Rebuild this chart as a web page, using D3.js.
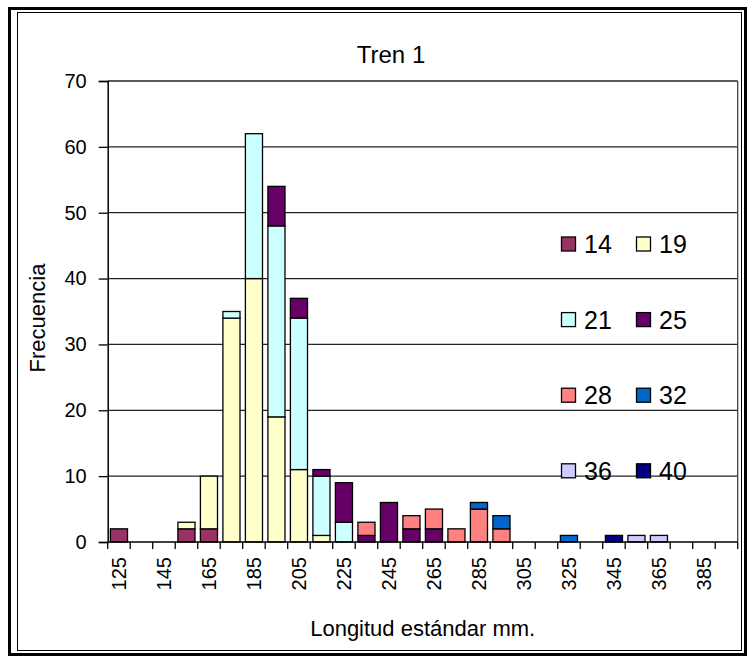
<!DOCTYPE html>
<html>
<head>
<meta charset="utf-8">
<script src="https://cdn.jsdelivr.net/npm/d3@7"></script>
<style>
  html, body { margin: 0; padding: 0; background: #fff; }
  svg { display: block; }
  text { font-family: "Liberation Sans", Arial, sans-serif; fill: #000; }
</style>
</head>
<body>
<svg id="chart" width="751" height="662"></svg>
<script>
// Length classes (mm), one per bar position
const lengths = ["125","135","145","155","165","175","185","195","205","215",
                 "225","235","245","255","265","275","285","295","305","315",
                 "325","335","345","355","365","375","385","395"];

// Frequency per length class, one array per series
const s14 = [2,0,0,2,2,0,0,0,0,0,0,0,0,0,0,0,0,0,0,0,0,0,0,0,0,0,0,0];
const s19 = [0,0,0,1,8,34,40,19,11,1,0,0,0,0,0,0,0,0,0,0,0,0,0,0,0,0,0,0];
const s21 = [0,0,0,0,0,1,22,29,23,9,3,0,0,0,0,0,0,0,0,0,0,0,0,0,0,0,0,0];
const s25 = [0,0,0,0,0,0,0,6,3,1,6,1,6,2,2,0,0,0,0,0,0,0,0,0,0,0,0,0];
const s28 = [0,0,0,0,0,0,0,0,0,0,0,2,0,2,3,2,5,2,0,0,0,0,0,0,0,0,0,0];
const s32 = [0,0,0,0,0,0,0,0,0,0,0,0,0,0,0,0,1,2,0,0,1,0,0,0,0,0,0,0];
const s36 = [0,0,0,0,0,0,0,0,0,0,0,0,0,0,0,0,0,0,0,0,0,0,0,1,1,0,0,0];
const s40 = [0,0,0,0,0,0,0,0,0,0,0,0,0,0,0,0,0,0,0,0,0,0,1,0,0,0,0,0];

const seriesNames = ["14","19","21","25","28","32","36","40"];
const seriesValues = [s14, s19, s21, s25, s28, s32, s36, s40];
const seriesColors = ["#993366","#FFFFCC","#CCFFFF","#660066","#FF8080","#0066CC","#CCCCFF","#000080"];

const yTicks = [0,10,20,30,40,50,60,70];
const title = "Tren 1";
const xTitle = "Longitud estándar mm.";
const yTitle = "Frecuencia";

const svg = d3.select("#chart");
const plot = { left: 107.7, right: 737.7, top: 81, bottom: 542 };

// Frame around the whole chart
svg.append("rect").attr("x", 9.5).attr("y", 8.5).attr("width", 736).attr("height", 646)
  .attr("fill", "#fff").attr("stroke", "#000").attr("stroke-width", 3);
svg.append("rect").attr("x", 17.5).attr("y", 12.5).attr("width", 724).attr("height", 638)
  .attr("fill", "none").attr("stroke", "#000").attr("stroke-width", 1);

const x = d3.scaleBand().domain(lengths).range([plot.left, plot.right])
  .paddingInner(0.24).paddingOuter(0.12);
const xEdge = d3.scaleLinear().domain([0, lengths.length]).range([plot.left, plot.right]);
const y = d3.scaleLinear().domain([0, 70]).range([plot.bottom, plot.top]);

// Horizontal gridlines
svg.append("g").selectAll("line").data(yTicks.filter(d => d > 0)).join("line")
  .attr("x1", plot.left).attr("x2", plot.right)
  .attr("y1", d => y(d)).attr("y2", d => y(d))
  .attr("stroke", "#222").attr("stroke-width", 1.3);

// Right edge of the plot area
svg.append("line").attr("x1", plot.right).attr("x2", plot.right)
  .attr("y1", plot.top).attr("y2", plot.bottom).attr("stroke", "#444").attr("stroke-width", 1.3);

// Stacked bars
const table = lengths.map((len, i) => {
  const row = { len };
  seriesNames.forEach((n, k) => row[n] = seriesValues[k][i]);
  return row;
});
const stacked = d3.stack().keys(seriesNames)(table);
const bars = svg.append("g");
stacked.forEach((layer, k) => {
  bars.append("g").attr("fill", seriesColors[k])
    .selectAll("rect").data(layer.filter(d => d[1] > d[0])).join("rect")
    .attr("x", d => x(d.data.len))
    .attr("width", x.bandwidth())
    .attr("y", d => y(d[1]))
    .attr("height", d => y(d[0]) - y(d[1]))
    .attr("stroke", "#000").attr("stroke-width", 1.3);
});

// Y axis
const yAxis = svg.append("g").attr("transform", `translate(${plot.left},0)`)
  .call(d3.axisLeft(y).tickValues(yTicks).tickSize(9).tickPadding(12));
yAxis.select(".domain").attr("stroke", "#000").attr("stroke-width", 1.5);
yAxis.selectAll(".tick line").attr("stroke", "#000").attr("stroke-width", 1.3);
yAxis.selectAll(".tick text").attr("font-size", 20)
  .style("font-family", "Liberation Sans, Arial, sans-serif").attr("fill", "#000");

// X axis: boundary ticks and rotated class labels
svg.append("line").attr("x1", plot.left).attr("x2", plot.right)
  .attr("y1", plot.bottom).attr("y2", plot.bottom).attr("stroke", "#000").attr("stroke-width", 1.5);
svg.append("g").selectAll("line").data(d3.range(lengths.length + 1)).join("line")
  .attr("x1", d => xEdge(d)).attr("x2", d => xEdge(d))
  .attr("y1", plot.bottom).attr("y2", plot.bottom + 7)
  .attr("stroke", "#000").attr("stroke-width", 1.3);
svg.append("g").selectAll("text").data(lengths.filter((d, i) => i % 2 === 0)).join("text")
  .attr("transform", d => `translate(${x(d) + x.bandwidth() / 2 + 7},557) rotate(-90)`)
  .attr("text-anchor", "end").attr("font-size", 20)
  .text(d => d);

// Titles
svg.append("text").attr("x", 391).attr("y", 63).attr("text-anchor", "middle")
  .attr("font-size", 24).text(title);
svg.append("text").attr("x", (plot.left + plot.right) / 2).attr("y", 636).attr("text-anchor", "middle")
  .attr("font-size", 22).text(xTitle);
svg.append("text").attr("transform", "translate(45,318) rotate(-90)")
  .attr("text-anchor", "middle").attr("font-size", 22).text(yTitle);

// Legend, two columns by four rows
const legend = svg.append("g");
seriesNames.forEach((n, k) => {
  const col = k % 2, row = Math.floor(k / 2);
  const lx = 561 + col * 75, ly = 244 + row * 75.6;
  legend.append("rect").attr("x", lx + 0.5).attr("y", ly - 7).attr("width", 14).attr("height", 14)
    .attr("fill", seriesColors[k]).attr("stroke", "#000").attr("stroke-width", 1.3);
  legend.append("text").attr("x", lx + 23).attr("y", ly + 9).attr("font-size", 25).text(n);
});
</script>
</body>
</html>
